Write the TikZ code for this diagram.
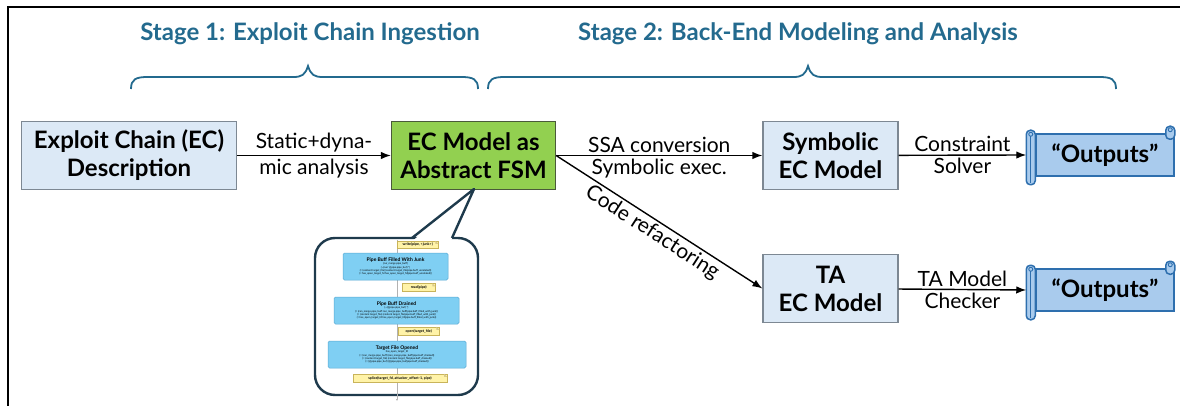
\documentclass[tikz,border=0pt]{standalone}
\usepackage{fontspec}
\setmainfont{Lato}
\usetikzlibrary{arrows.meta,calc}
\definecolor{stagec}{HTML}{236A8E}
\definecolor{boxfill}{HTML}{DCE9F6}
\definecolor{boxdraw}{HTML}{7D8893}
\definecolor{fsmfill}{HTML}{92D050}
\definecolor{fsmdraw}{HTML}{4A5A3A}
\definecolor{scrollfill}{HTML}{A9CBED}
\definecolor{scrolldraw}{HTML}{2E6FAE}
\definecolor{calloutc}{HTML}{1E3A4C}
\definecolor{mboxfill}{HTML}{7FCFF3}
\definecolor{mboxdraw}{HTML}{5AA9D3}
\definecolor{notefill}{HTML}{FFF3A8}
\definecolor{notedraw}{HTML}{C9B45A}
\newcommand\mtitlefont{\fontsize{5}{6}\selectfont\bfseries}
\tikzset{
  stagetitle/.style={text=stagec, font=\fontsize{24}{28}\selectfont\bfseries, inner sep=0pt},
  stagebrace/.style={draw=stagec, line width=1.8pt},
  mainbox/.style={draw=boxdraw, fill=boxfill, line width=1.2pt, align=center,
    font=\fontsize{24}{28}\selectfont\bfseries, inner sep=2pt},
  fsmbox/.style={mainbox, draw=fsmdraw, fill=fsmfill},
  scrollbody/.style={draw=scrolldraw, fill=scrollfill, line width=1.5pt,
    font=\fontsize{24}{28}\selectfont\bfseries, inner sep=0pt},
  scrollpart/.style={draw=scrolldraw, fill=scrollfill, line width=1.5pt},
  arr/.style={-{Latex[length=10pt,width=7.5pt]}, line width=1.4pt, black},
  lab/.style={font=\fontsize{21}{25}\selectfont, inner sep=2.5pt, align=center},
  calloutbox/.style={draw=calloutc, line width=2.4pt, fill=white, rounded corners=20pt},
  mbox/.style={draw=mboxdraw, fill=mboxfill, line width=0.5pt, rounded corners=1.5pt,
    align=center, inner sep=0.8pt, font=\fontsize{2.6}{3.3}\selectfont},
  note/.style={draw=notedraw, fill=notefill, line width=0.4pt, inner sep=0.8pt,
    font=\fontsize{3.6}{4.2}\selectfont\bfseries},
}
\begin{document}
\begin{tikzpicture}[x=1pt,y=-1pt]
\useasboundingbox (0,0) rectangle (1180,406);
% frame
\draw[line width=2.2pt, black] (8,407) -- (8,7) -- (1181,7);

% stage titles
\node[stagetitle] (t1) at (310,34) {Stage 1: Exploit Chain Ingestion};
\node[stagetitle] (t2) at (798,34) {Stage 2: Back-End Modeling and Analysis};

% braces
\draw[stagebrace] (131,89) .. controls (131,79) and (136,77) .. (148,77)
  -- (293,77) .. controls (302,77) and (305,75) .. (308,66)
  .. controls (311,75) and (314,77) .. (323,77)
  -- (461,77) .. controls (473,77) and (478,79) .. (478,89);
\draw[stagebrace] (488,89) .. controls (488,79) and (493,77) .. (505,77)
  -- (793,77) .. controls (802,77) and (805,75) .. (808,66)
  .. controls (811,75) and (814,77) .. (823,77)
  -- (1099,77) .. controls (1111,77) and (1116,79) .. (1116,89);

% main boxes
\node[mainbox, minimum width=215, minimum height=68] (ec) at (129,155.5) {Exploit Chain (EC)\\Description};
\node[fsmbox, minimum width=164, minimum height=68] (fsm) at (473.5,155.5) {EC Model as\\Abstract FSM};
\node[mainbox, minimum width=135, minimum height=68] (sym) at (830.5,155.5) {Symbolic\\EC Model};
\node[mainbox, minimum width=135, minimum height=68] (ta) at (830.5,288.5) {TA\\EC Model};

% scrolls
\foreach \n/\yy in {out1/155, out2/290}{
  \node[scrollbody, minimum width=138, minimum height=42] (\n) at (1105,\yy) {“Outputs”};
  \draw[scrollpart, rounded corners=4pt] ($(\n.north east)+(-9,-7)$) rectangle ($(\n.north east)+(0,6)$);
  \draw[scrolldraw, line width=0.9pt] ($(\n.north east)+(-4.5,-3.5)$) circle (2);
  \draw[scrollpart, rounded corners=4pt] ($(\n.north west)+(-9,-3)$) rectangle ($(\n.south west)+(0,8)$);
  \draw[scrolldraw, line width=0.9pt] ($(\n.north west)+(-4.5,1)$) circle (2);
  \draw[scrolldraw, line width=0.9pt] ($(\n.north west)+(-4.5,3)$) -- ($(\n.south west)+(-4.5,6)$);
}
\coordinate (o1in) at ($(out1.west)+(-9,0)$);
\coordinate (o2in) at ($(out2.west)+(-9,0)$);

% connectors
\draw[arr] (ec) -- node[lab, above]{Static+dyna-} node[lab, below]{mic analysis} (fsm);
\draw[arr] (fsm) -- node[lab, above]{SSA conversion} node[lab, below]{Symbolic exec.} (sym);
\draw[arr] (fsm.east) -- node[lab, sloped, below, pos=0.5]{Code refactoring} (ta.west);
\draw[arr] (sym) -- node[lab, above]{Constraint} node[lab, below]{Solver} (o1in);
\draw[arr] (ta) -- node[lab, above]{TA Model} node[lab, below]{Checker} (o2in);

% callout
\node[calloutbox, minimum width=163, minimum height=157] (cb) at (396.5,316.5) {};
\coordinate (tip) at (474,189);
\fill[white] (413,240.5) -- (tip) -- (451,240.5) -- cycle;
\draw[calloutc, line width=2.4pt, line join=round] (412,238) -- (tip) -- (452,238);

% mini state diagram inside callout
\coordinate (mtop) at (397,240);
\coordinate (mbot) at (397,401);
\draw[gray!60, line width=0.5pt, -{Latex[length=2pt,width=2pt]}] (mtop) -- (mbot);
\node[note, anchor=west, minimum width=41, minimum height=7] (n1) at (397,244.5) {write(pipe, <junk>)};
\node[mbox, minimum width=105, minimum height=27] (m1) at (395.5,266.5)
  {{\mtitlefont Pipe Buff Filled With Junk}\\\{cur\_merge.pipe\_buff\}\\\{\textasciitilde(curr @pipe.pipe\_buf) *\}\\(= (content target\_file) (content target\_file(pipe.buff\_unrelated))\\(= has\_open\_target\_fd has\_open\_target\_fd(pipe.buff\_unrelated))};
\node[note, anchor=west, minimum width=33, minimum height=8] (n2) at (402,287.5) {read(pipe)};
\node[mbox, minimum width=125, minimum height=27] (m2) at (396.5,310.5)
  {{\mtitlefont Pipe Buff Drained}\\\{\textasciitilde(@pipe.pipe\_buf) *\}\\(= (can\_merge.pipe\_buff can\_merge.pipe\_buff(pipe.buff\_filled\_with\_junk))\\(= (content target\_file) (content target\_file(pipe.buff\_filled\_with\_junk))\\(= has\_open\_target\_fd has\_open\_target\_fd(pipe.buff\_filled\_with\_junk))};
\node[note, anchor=west, minimum width=41, minimum height=8] (n3) at (398,331) {open(target\_file)};
\node[mbox, minimum width=138, minimum height=27] (m3) at (397,354.5)
  {{\mtitlefont Target File Opened}\\has\_open\_target\_fd\\(= (can\_merge.pipe\_buff) (can\_merge.pipe\_buff(pipe.buff\_drained))\\(= (content target\_file) (content target\_file(pipe.buff\_drained))\\(= (@pipe.pipe\_buf) (@pipe.pipe\_buf(pipe.buff\_drained))};
\node[note, minimum width=94, minimum height=8] (n4) at (400,378) {splice(target\_fd, attacker\_offset-1, pipe)};
\foreach \n in {n1,n2,n3,n4}{
  \fill[notedraw!70] ($(\n.north east)+(-3,0)$) -- ($(\n.north east)+(0,3)$) -- ($(\n.north east)+(-3,3)$) -- cycle;
}
\end{tikzpicture}
\end{document}
